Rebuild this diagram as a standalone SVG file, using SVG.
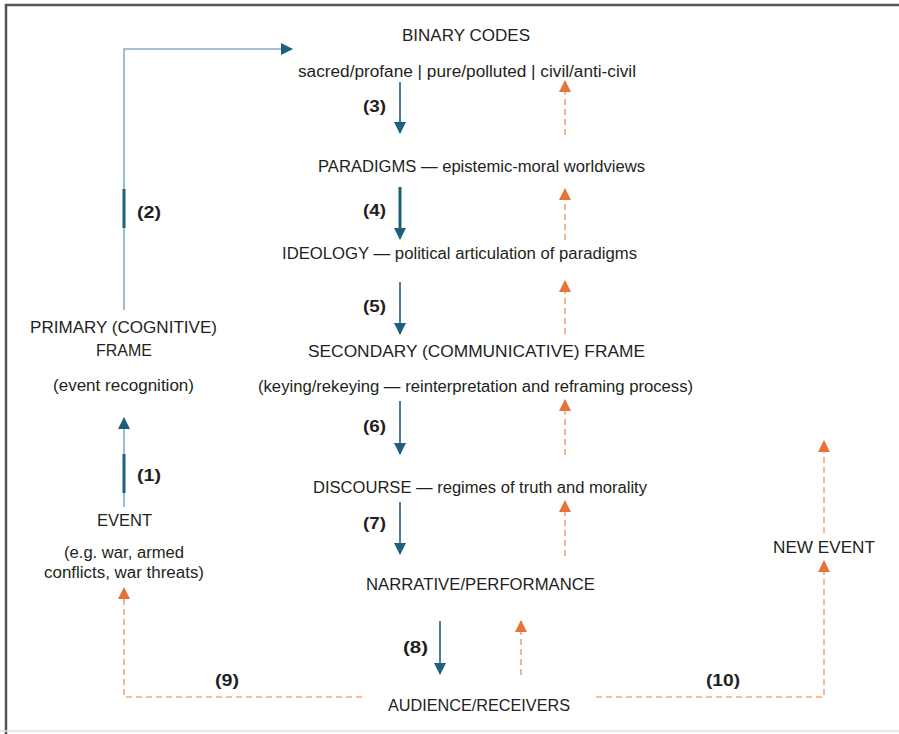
<svg xmlns="http://www.w3.org/2000/svg" width="899" height="734" viewBox="0 0 899 734">
<style>
text{font-family:"Liberation Sans",Arial,sans-serif;font-size:16px;fill:#231f20}
.b{font-weight:bold}
.blue{stroke:#1d5f7e;stroke-width:1.6;fill:none}
.lblue{stroke:#7fb0c9;stroke-width:1.6;fill:none}
.dk{stroke:#1d5f7e;stroke-width:3;fill:none}
.or{stroke:#f2a47a;stroke-width:1.6;fill:none;stroke-dasharray:6 4}
</style>
<defs>
<marker id="ab" markerUnits="userSpaceOnUse" markerWidth="12" markerHeight="12" refX="11" refY="6" orient="auto"><path d="M0,0 L12,6 L0,12 Z" fill="#1d5f7e"/></marker>
<marker id="ao" markerUnits="userSpaceOnUse" markerWidth="12" markerHeight="12" refX="11" refY="6" orient="auto"><path d="M0,0 L12,6 L0,12 Z" fill="#e8733a"/></marker>
</defs>
<rect width="899" height="734" fill="#fff"/>
<path d="M6,734 V5 H899" stroke="#555" stroke-width="2.5" fill="none"/>
<line x1="0" y1="731" x2="899" y2="731" stroke="#e2e2e2" stroke-width="1.5"/>

<g id="connectors">
<path class="lblue" d="M124,310 V49 H292" marker-end="url(#ab)"/>
<line class="dk" x1="124" y1="189" x2="124" y2="228"/>
<line class="lblue" x1="124" y1="507" x2="124" y2="418" marker-end="url(#ab)"/>
<line class="dk" x1="124" y1="454" x2="124" y2="493"/>
<line class="blue" x1="400" y1="82" x2="400" y2="133" marker-end="url(#ab)"/>
<line class="blue" x1="400" y1="187" x2="400" y2="239" marker-end="url(#ab)"/>
<line class="dk" x1="400" y1="187" x2="400" y2="228"/>
<line class="blue" x1="400" y1="282" x2="400" y2="334" marker-end="url(#ab)"/>
<line class="blue" x1="400" y1="401" x2="400" y2="454" marker-end="url(#ab)"/>
<line class="blue" x1="400" y1="502" x2="400" y2="554" marker-end="url(#ab)"/>
<line class="blue" x1="440" y1="621" x2="440" y2="674" marker-end="url(#ab)"/>
<line class="or" x1="565" y1="135" x2="565" y2="81" marker-end="url(#ao)"/>
<line class="or" x1="565" y1="240" x2="565" y2="189" marker-end="url(#ao)"/>
<line class="or" x1="565" y1="334" x2="565" y2="281" marker-end="url(#ao)"/>
<line class="or" x1="565" y1="455" x2="565" y2="400" marker-end="url(#ao)"/>
<line class="or" x1="565" y1="556" x2="565" y2="501" marker-end="url(#ao)"/>
<line class="or" x1="521" y1="675" x2="521" y2="621" marker-end="url(#ao)"/>
<path class="or" d="M362,697 H124 V588" marker-end="url(#ao)"/>
<path class="or" d="M596,697 H824 V561" marker-end="url(#ao)"/>
<line class="or" x1="824" y1="533" x2="824" y2="441" marker-end="url(#ao)"/>
</g>

<g id="labels">
<text class="b" x="137" y="218" textLength="24" lengthAdjust="spacingAndGlyphs">(2)</text>
<text class="b" x="137" y="481" textLength="24" lengthAdjust="spacingAndGlyphs">(1)</text>
<text class="b" x="363" y="112" textLength="23" lengthAdjust="spacingAndGlyphs">(3)</text>
<text class="b" x="363" y="216" textLength="23" lengthAdjust="spacingAndGlyphs">(4)</text>
<text class="b" x="363" y="312" textLength="23" lengthAdjust="spacingAndGlyphs">(5)</text>
<text class="b" x="363" y="432" textLength="23" lengthAdjust="spacingAndGlyphs">(6)</text>
<text class="b" x="363" y="529" textLength="23" lengthAdjust="spacingAndGlyphs">(7)</text>
<text class="b" x="403" y="653" textLength="25" lengthAdjust="spacingAndGlyphs">(8)</text>
<text class="b" x="215" y="686" textLength="24" lengthAdjust="spacingAndGlyphs">(9)</text>
<text class="b" x="706" y="686" textLength="34" lengthAdjust="spacingAndGlyphs">(10)</text>
</g>

<g id="binary-codes">
<text x="402" y="41" textLength="128" lengthAdjust="spacingAndGlyphs">BINARY CODES</text>
<text x="298" y="77" textLength="338" lengthAdjust="spacingAndGlyphs">sacred/profane | pure/polluted | civil/anti-civil</text>
</g>
<g id="paradigms"><text x="318" y="172" textLength="327" lengthAdjust="spacingAndGlyphs">PARADIGMS — epistemic-moral worldviews</text></g>
<g id="ideology"><text x="282" y="259" textLength="355" lengthAdjust="spacingAndGlyphs">IDEOLOGY — political articulation of paradigms</text></g>
<g id="secondary-frame">
<text x="308" y="357" textLength="337" lengthAdjust="spacingAndGlyphs">SECONDARY (COMMUNICATIVE) FRAME</text>
<text x="258" y="392" textLength="435" lengthAdjust="spacingAndGlyphs">(keying/rekeying — reinterpretation and reframing process)</text>
</g>
<g id="discourse"><text x="313" y="493" textLength="334" lengthAdjust="spacingAndGlyphs">DISCOURSE — regimes of truth and morality</text></g>
<g id="narrative"><text x="366" y="590" textLength="229" lengthAdjust="spacingAndGlyphs">NARRATIVE/PERFORMANCE</text></g>
<g id="audience"><text x="388" y="711" textLength="182" lengthAdjust="spacingAndGlyphs">AUDIENCE/RECEIVERS</text></g>
<g id="new-event"><text x="773" y="553" textLength="102" lengthAdjust="spacingAndGlyphs">NEW EVENT</text></g>
<g id="primary-frame">
<text x="30" y="333" textLength="187" lengthAdjust="spacingAndGlyphs">PRIMARY (COGNITIVE)</text>
<text x="96" y="356" textLength="56" lengthAdjust="spacingAndGlyphs">FRAME</text>
<text x="53" y="391" textLength="141" lengthAdjust="spacingAndGlyphs">(event recognition)</text>
</g>
<g id="event">
<text x="97" y="526" textLength="55" lengthAdjust="spacingAndGlyphs">EVENT</text>
<text x="64" y="558" textLength="120" lengthAdjust="spacingAndGlyphs">(e.g. war, armed</text>
<text x="44" y="578" textLength="160" lengthAdjust="spacingAndGlyphs">conflicts, war threats)</text>
</g>
</svg>
